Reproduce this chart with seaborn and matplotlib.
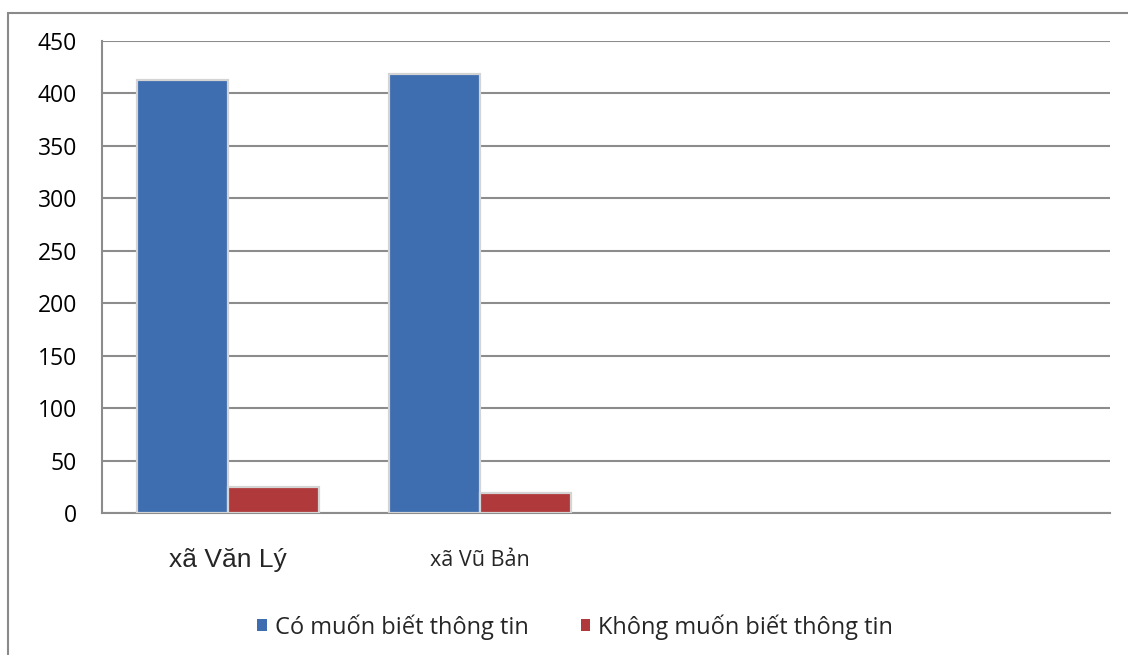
import matplotlib
matplotlib.use("Agg")
import matplotlib.pyplot as plt
from matplotlib.patches import Rectangle, Patch
import seaborn as sns
import pandas as pd

# Survey answers per commune
communes = ["xã Văn Lý", "xã Vũ Bản"]
series_names = ["Có muốn biết thông tin", "Không muốn biết thông tin"]
want_info = [413, 419]
not_want_info = [25, 19]
y_ticks = [0, 50, 100, 150, 200, 250, 300, 350, 400, 450]

colors = ["#3E6DB0", "#B0393B"]
grid_gray = "#8C8C8C"

df = pd.DataFrame({
    "commune": communes * 2,
    "answer": [series_names[0]] * len(communes) + [series_names[1]] * len(communes),
    "count": want_info + not_want_info,
})

sns.set_theme(style="white")
plt.rcParams["font.family"] = ["Open Sans", "DejaVu Sans"]

fig = plt.figure(figsize=(11.28, 6.55), dpi=100)
ax = fig.add_axes([102 / 1128, 1 - 513 / 655, (1110 - 102) / 1128, (513 - 41) / 655])

sns.barplot(data=df, x="commune", y="count", hue="answer", order=communes,
            hue_order=series_names, palette=colors, saturation=1, width=0.72, gap=0,
            edgecolor="#D4D4D4", linewidth=1.6, ax=ax, zorder=3)

# Two empty category slots to the right, as in the original layout
ax.set_xlim(-0.5, 3.5)
ax.set_ylim(0, 450)
ax.set_yticks(y_ticks)
ax.set_yticklabels([str(v) for v in y_ticks], fontsize=16.5, color="black")
ax.yaxis.grid(True, color=grid_gray, linewidth=1.5, zorder=0)
ax.set_axisbelow(True)
ax.set_xlabel("")
ax.set_ylabel("")

ax.set_xticks([0, 1])
ax.set_xticklabels([])
ax.tick_params(axis="both", length=0)
ax.tick_params(axis="y", pad=18)

# Category labels under the axis
ax.text(0, -45, communes[0], ha="center", va="center", fontsize=19,
        family=["Liberation Sans", "DejaVu Sans"], transform=ax.transData, clip_on=False)
ax.text(1, -45, communes[1], ha="center", va="center", fontsize=15.5,
        transform=ax.transData, clip_on=False)

for side in ["top", "right"]:
    ax.spines[side].set_visible(False)
for side in ["left", "bottom"]:
    ax.spines[side].set_color(grid_gray)
    ax.spines[side].set_linewidth(1.5)

if ax.get_legend() is not None:
    ax.get_legend().remove()

handles = [Patch(facecolor=c, edgecolor="none") for c in colors]
fig.legend(handles, series_names, loc="center", bbox_to_anchor=(0.51, 1 - 627 / 655),
           ncol=2, frameon=False, fontsize=17, handlelength=0.4, handleheight=0.4,
           handletextpad=0.35, columnspacing=2.2)

# Chart frame
fig.patches.append(Rectangle((8 / 1128, -0.2), 1.5, 1 - 13 / 655 + 0.2,
                             transform=fig.transFigure, fill=False,
                             edgecolor="#8A8A8A", linewidth=1.5))

fig.savefig("out.png", dpi=100)
